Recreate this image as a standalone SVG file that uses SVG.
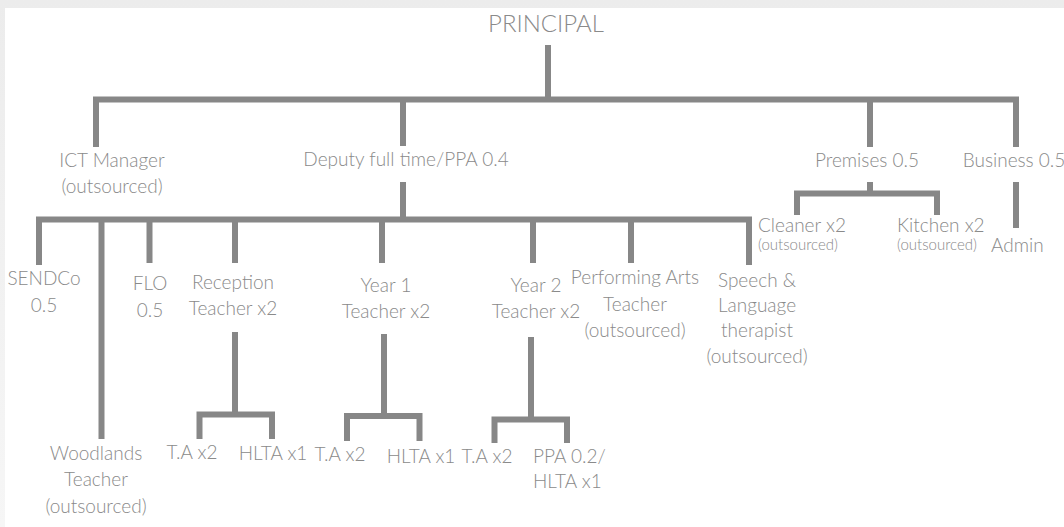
<svg xmlns="http://www.w3.org/2000/svg" width="1064" height="527" viewBox="0 0 1064 527">
  <defs>
    <linearGradient id="topShade" x1="0" y1="0" x2="0" y2="1">
      <stop offset="0" stop-color="#ececec"/>
      <stop offset="1" stop-color="#f6f6f6"/>
    </linearGradient>
    <style>
      .lbl { font-family: Lato, "Open Sans", "Liberation Sans", sans-serif; font-weight: 300; font-size: 19px; fill: #8a8a8a; text-anchor: middle; }
      .big { font-size: 24px; }
      .small { font-size: 15px; text-anchor: start; }
      .start { text-anchor: start; }
      .ln { fill: none; stroke: #878787; stroke-width: 6; stroke-linejoin: miter; stroke-linecap: butt; }
    </style>
  </defs>

  <!-- page backdrop and card -->
  <rect x="0" y="0" width="1064" height="527" fill="url(#topShade)"/>
  <rect x="5" y="8" width="1059" height="519" fill="#ffffff"/>

  <!-- connectors -->
  <g id="connectors" class="ln">
    <path d="M96,147 V99.5 H1016 V147"/>
    <path d="M548,45 V99.5"/>
    <path d="M403,99.5 V146"/>
    <path d="M870,99.5 V147"/>
    <path d="M403,182 V219.5"/>
    <path d="M39,265 V219.5 H749 V265"/>
    <path d="M101.5,219.5 V439"/>
    <path d="M149.5,219.5 V263"/>
    <path d="M235,219.5 V263"/>
    <path d="M382,219.5 V263"/>
    <path d="M533,219.5 V263"/>
    <path d="M631,219.5 V263"/>
    <path d="M870,182 V193.5"/>
    <path d="M797,215 V193.5 H937 V215"/>
    <path d="M1016,182 V228"/>
    <path d="M235,332 V414.5"/>
    <path d="M199.5,439 V414.5 H272 V439"/>
    <path d="M384,334 V416"/>
    <path d="M347,441 V416 H419.5 V441"/>
    <path d="M531,337 V419.5"/>
    <path d="M494.5,443 V419.5 H567 V443"/>
  </g>

  <!-- nodes -->
  <g id="principal"><text class="lbl big" x="546" y="32">PRINCIPAL</text></g>
  <g id="ict-manager"><text class="lbl" x="112" y="167">ICT Manager</text><text class="lbl" x="112" y="193">(outsourced)</text></g>
  <g id="deputy"><text class="lbl" x="406" y="166">Deputy full time/PPA 0.4</text></g>
  <g id="premises"><text class="lbl" x="867" y="167">Premises 0.5</text></g>
  <g id="business"><text class="lbl" x="1014" y="167">Business 0.5</text></g>
  <g id="cleaner"><text class="lbl start" x="758" y="232">Cleaner x2</text><text class="lbl small" x="758" y="250">(outsourced)</text></g>
  <g id="kitchen"><text class="lbl start" x="897" y="232">Kitchen x2</text><text class="lbl small" x="897" y="250">(outsourced)</text></g>
  <g id="admin"><text class="lbl start" x="991" y="252">Admin</text></g>
  <g id="sendco"><text class="lbl" x="44" y="285">SENDCo</text><text class="lbl" x="44" y="312">0.5</text></g>
  <g id="flo"><text class="lbl" x="150" y="290">FLO</text><text class="lbl" x="150" y="317">0.5</text></g>
  <g id="reception"><text class="lbl" x="233" y="289">Reception</text><text class="lbl" x="233" y="315">Teacher x2</text></g>
  <g id="year1"><text class="lbl" x="386" y="292">Year 1</text><text class="lbl" x="386" y="318">Teacher x2</text></g>
  <g id="year2"><text class="lbl" x="536" y="292">Year 2</text><text class="lbl" x="536" y="318">Teacher x2</text></g>
  <g id="performing-arts"><text class="lbl" x="635" y="284">Performing Arts</text><text class="lbl" x="635" y="311">Teacher</text><text class="lbl" x="635" y="337">(outsourced)</text></g>
  <g id="speech"><text class="lbl" x="757" y="287">Speech &amp;</text><text class="lbl" x="757" y="312">Language</text><text class="lbl" x="757" y="337">therapist</text><text class="lbl" x="757" y="363">(outsourced)</text></g>
  <g id="woodlands"><text class="lbl" x="96" y="460">Woodlands</text><text class="lbl" x="96" y="486">Teacher</text><text class="lbl" x="96" y="513">(outsourced)</text></g>
  <g id="reception-ta"><text class="lbl" x="192" y="459">T.A x2</text></g>
  <g id="reception-hlta"><text class="lbl" x="273" y="460">HLTA x1</text></g>
  <g id="year1-ta"><text class="lbl" x="340" y="461">T.A x2</text></g>
  <g id="year1-hlta"><text class="lbl" x="421" y="463">HLTA x1</text></g>
  <g id="year2-ta"><text class="lbl" x="487" y="463">T.A x2</text></g>
  <g id="year2-ppa"><text class="lbl start" x="533" y="463">PPA 0.2/</text><text class="lbl start" x="533" y="488">HLTA x1</text></g>
</svg>
